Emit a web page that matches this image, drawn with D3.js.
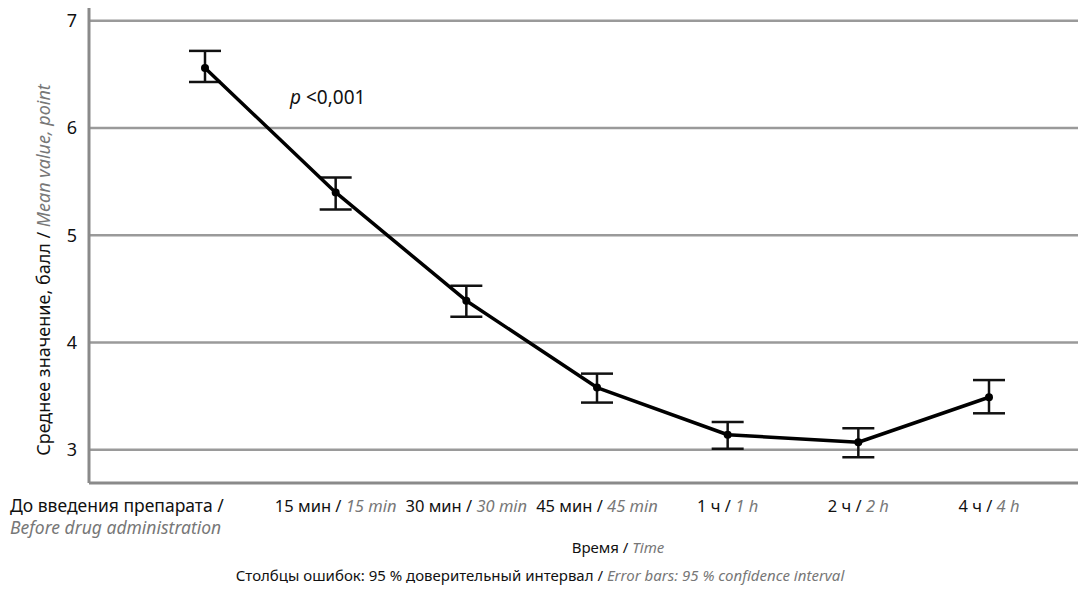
<!DOCTYPE html>
<html>
<head>
<meta charset="utf-8">
<script src="https://cdn.jsdelivr.net/npm/d3@7"></script>
<style>
  body { margin: 0; background: #fff; }
  svg { display: block; font-family: "Noto Sans", "Open Sans", sans-serif; }
</style>
</head>
<body>
<div id="chart"></div>
<script>
// data
var timepoints = ["before", "15m", "30m", "45m", "1h", "2h", "4h"];
var labelRu = ["До введения препарата /", "15 мин /", "30 мин /", "45 мин /", "1 ч /", "2 ч /", "4 ч /"];
var labelEn = ["Before drug administration", "15 min", "30 min", "45 min", "1 h", "2 h", "4 h"];
var means = [6.56, 5.40, 4.39, 3.58, 3.14, 3.07, 3.49];
var ciLow = [6.43, 5.24, 4.24, 3.44, 3.01, 2.93, 3.34];
var ciHigh = [6.72, 5.54, 4.53, 3.71, 3.26, 3.20, 3.65];
var yTicks = [3, 4, 5, 6, 7];

var W = 1078, H = 597;
var margin = { top: 8, right: 0, bottom: 114, left: 89 };

var svg = d3.select("#chart").append("svg")
  .attr("width", W)
  .attr("height", H);

// scales
var x = d3.scalePoint()
  .domain(timepoints)
  .range([205, 989]);
var y = d3.scaleLinear()
  .domain([2.69, 7.12])
  .range([H - margin.bottom, margin.top]);

// grid lines
svg.append("g")
  .selectAll("line")
  .data(yTicks)
  .enter()
  .append("line")
  .attr("x1", margin.left)
  .attr("x2", W)
  .attr("y1", function (d) { return y(d); })
  .attr("y2", function (d) { return y(d); })
  .attr("stroke", "#9a9a9a")
  .attr("stroke-width", 2.5);

// y axis
var yAxis = d3.axisLeft(y).tickValues(yTicks).tickFormat(d3.format("d")).tickSize(0).tickPadding(12);
var gy = svg.append("g")
  .attr("transform", "translate(" + margin.left + ",0)")
  .call(yAxis);
gy.select(".domain").remove();
gy.selectAll("text")
  .style("font-size", "18px")
  .style("font-family", "Noto Sans")
  .attr("fill", "#111");

// axis lines
svg.append("line")
  .attr("x1", margin.left).attr("x2", margin.left)
  .attr("y1", margin.top).attr("y2", H - margin.bottom)
  .attr("stroke", "#8a8a8a").attr("stroke-width", 3);
svg.append("line")
  .attr("x1", margin.left).attr("x2", W)
  .attr("y1", H - margin.bottom).attr("y2", H - margin.bottom)
  .attr("stroke", "#8a8a8a").attr("stroke-width", 3);

// x labels
var xl = svg.append("g").selectAll("text")
  .data(timepoints)
  .enter()
  .append("text")
  .attr("y", 512)
  .style("font-size", "16.5px");
xl.each(function (d, i) {
  var t = d3.select(this);
  if (i === 0) {
    t.attr("x", 10).attr("text-anchor", "start").style("font-size", "17.5px");
    t.append("tspan").attr("fill", "#111").text(labelRu[i]);
    t.append("tspan").attr("x", 10).attr("dy", 22)
      .attr("fill", "#777").style("font-style", "italic").text(labelEn[i]);
  } else {
    t.attr("x", x(d)).attr("text-anchor", "middle");
    t.append("tspan").attr("fill", "#111").text(labelRu[i] + " ");
    t.append("tspan").attr("fill", "#777").style("font-style", "italic").text(labelEn[i]);
  }
});

// axis titles
var yt = svg.append("text")
  .attr("transform", "translate(50,270) rotate(-90)")
  .attr("text-anchor", "middle")
  .style("font-size", "18px");
yt.append("tspan").attr("fill", "#111").text("Среднее значение, балл / ");
yt.append("tspan").attr("fill", "#777").style("font-style", "italic").text("Mean value, point");

var xt = svg.append("text")
  .attr("x", 618).attr("y", 553)
  .attr("text-anchor", "middle")
  .style("font-size", "15px");
xt.append("tspan").attr("fill", "#111").text("Время / ");
xt.append("tspan").attr("fill", "#777").style("font-style", "italic").text("Time");

var ft = svg.append("text")
  .attr("x", 540).attr("y", 581)
  .attr("text-anchor", "middle")
  .style("font-size", "15px");
ft.append("tspan").attr("fill", "#111").text("Столбцы ошибок: 95 % доверительный интервал / ");
ft.append("tspan").attr("fill", "#777").style("font-style", "italic").text("Error bars: 95 % confidence interval");

// error bars
var bars = svg.append("g").selectAll("g")
  .data(timepoints)
  .enter()
  .append("g")
  .attr("stroke", "#111")
  .attr("stroke-width", 2.5);
bars.append("line")
  .attr("x1", function (d) { return x(d); })
  .attr("x2", function (d) { return x(d); })
  .attr("y1", function (d, i) { return y(ciLow[i]); })
  .attr("y2", function (d, i) { return y(ciHigh[i]); });
bars.append("line")
  .attr("x1", function (d) { return x(d) - 16; })
  .attr("x2", function (d) { return x(d) + 16; })
  .attr("y1", function (d, i) { return y(ciLow[i]); })
  .attr("y2", function (d, i) { return y(ciLow[i]); });
bars.append("line")
  .attr("x1", function (d) { return x(d) - 16; })
  .attr("x2", function (d) { return x(d) + 16; })
  .attr("y1", function (d, i) { return y(ciHigh[i]); })
  .attr("y2", function (d, i) { return y(ciHigh[i]); });

// mean line
var line = d3.line()
  .x(function (d, i) { return x(timepoints[i]); })
  .y(function (d) { return y(d); });
svg.append("path")
  .datum(means)
  .attr("d", line)
  .attr("fill", "none")
  .attr("stroke", "#000")
  .attr("stroke-width", 3.5)
  .attr("stroke-linejoin", "round");

svg.append("g").selectAll("circle")
  .data(means)
  .enter()
  .append("circle")
  .attr("cx", function (d, i) { return x(timepoints[i]); })
  .attr("cy", function (d) { return y(d); })
  .attr("r", 4)
  .attr("fill", "#000");

// p value
var pv = svg.append("text")
  .attr("x", 290).attr("y", 104)
  .style("font-size", "19px")
  .attr("fill", "#111");
pv.append("tspan").style("font-style", "italic").text("p");
pv.append("tspan").text(" <0,001");
</script>
</body>
</html>
